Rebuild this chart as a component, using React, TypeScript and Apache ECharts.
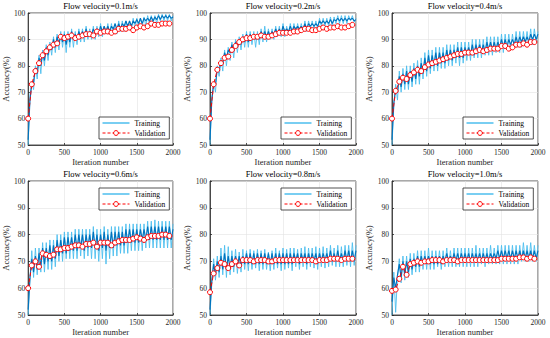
import React, { useEffect, useRef } from "react";
import * as echarts from "echarts";

const FONT = "'Liberation Serif', 'Times New Roman', Times, serif";

const titles = [
  "Flow velocity=0.1m/s",
  "Flow velocity=0.2m/s",
  "Flow velocity=0.4m/s",
  "Flow velocity=0.6m/s",
  "Flow velocity=0.8m/s",
  "Flow velocity=1.0m/s",
];

const xTicks = [0, 500, 1000, 1500, 2000];
const yTicks = [50, 60, 70, 80, 90, 100];
const TRAIN_STEP = 25;
const VAL_STEP = 50;

// ---- 0.1 m/s ----
const p1Light = [
  50, 69, 74, 71, 80, 75, 84, 77,
  86, 80, 88, 82, 89, 84, 91, 85,
  92, 86, 93, 87, 93, 85, 93, 87,
  94, 87, 93, 88, 94, 89, 94, 89,
  95, 90, 94, 90, 95, 90, 95, 91,
  96, 91, 95, 92, 96, 92, 96, 92,
  96, 92, 97, 93, 97, 93, 97, 94,
  97, 94, 98, 94, 98, 95, 98, 95,
  98.5, 95, 99, 96, 99, 96, 99, 96,
  99.5, 97, 99.5, 97, 99.5, 97, 99.5, 97,
  99,
];
const p1Dark = [
  52, 67, 73, 74, 79, 77, 83, 80,
  85, 82, 87, 84, 88, 86, 90, 87,
  91, 88, 92, 89, 92, 88, 92, 89,
  93, 90, 92, 90, 93, 91, 93, 91,
  94, 91, 93, 92, 94, 92, 94, 92,
  95, 93, 95, 93, 95, 93, 95, 94,
  96, 94, 96, 94, 96, 95, 97, 95,
  97, 95, 97, 96, 97.5, 96, 98, 96,
  98, 97, 98, 97, 98.5, 97, 98.5, 97.5,
  99, 97.5, 99, 98, 99, 98, 99, 98,
  98.5,
];
const p1Val = [60, 73, 78, 81, 84, 85.5, 87, 88, 88.5, 91, 90.5, 91, 91.5, 90.5, 91, 91.5, 92, 92, 91.5, 93, 92.5, 93, 93, 92.5, 93, 94, 94, 94, 94.5, 93.5, 94.5, 95, 94.5, 95, 96, 95.5, 95.5, 96, 96, 96];

// ---- 0.2 m/s ----
const p2Light = [
  50, 68, 74, 70, 80, 76, 83, 78,
  86, 80, 87, 82, 89, 83, 90, 85,
  91, 86, 92, 87, 93, 87, 93, 88,
  93, 87, 93, 88, 94, 89, 95, 89,
  94, 90, 94, 90, 95, 91, 95, 91,
  96, 91, 95, 92, 96, 92, 96, 92,
  96, 93, 96, 93, 97, 93, 97, 94,
  97, 94, 97, 94, 98, 95, 98, 95,
  98, 95, 98.5, 95, 98.5, 96, 99, 96,
  99, 96, 99, 96, 99, 97, 99, 96.5,
  98,
];
const p2Dark = [
  52, 67, 73, 73, 79, 78, 82, 81,
  85, 83, 86, 85, 88, 86, 89, 87,
  90, 88, 91, 89, 92, 89, 92, 90,
  92, 90, 92, 90, 93, 91, 93, 91,
  93, 91, 93, 92, 94, 92, 94, 92,
  95, 93, 94, 93, 95, 93, 95, 94,
  95, 94, 95, 94, 96, 94, 96, 95,
  96, 95, 96, 95, 97, 96, 97, 96,
  97, 96, 97.5, 96, 97.5, 97, 98, 97,
  98, 97, 98, 97, 98, 97.5, 98, 97,
  97.5,
];
const p2Val = [60, 73, 78.5, 81, 83, 83.5, 86, 87.5, 89, 90, 90.5, 90.5, 91, 91, 91.5, 91, 91, 91.5, 92, 92.5, 92.5, 92.5, 92.5, 93, 93, 93.5, 94, 94, 93.5, 93.5, 94, 94.5, 94, 94.5, 94.5, 95, 94.5, 94.5, 95, 95.5];

// ---- 0.4 m/s ----
const p3Light = [
  50, 65, 73, 67, 78, 70, 79, 71,
  80, 71, 80, 72, 81, 73, 82, 73,
  83, 75, 85, 76, 86, 77, 86, 78,
  87, 78, 87, 79, 87, 79, 88, 80,
  88, 80, 88, 81, 89, 80, 89, 81,
  89, 82, 89, 82, 90, 83, 90, 83,
  90, 83, 90, 84, 91, 84, 91, 84,
  91, 85, 91, 85, 92, 85, 92, 86,
  92, 86, 92, 87, 93, 87, 93, 87,
  93, 88, 93, 88, 94, 88, 94, 89,
  93,
];
const p3Dark = [
  52, 66, 71, 70, 76, 72, 77, 73,
  78, 73, 78, 74, 79, 75, 80, 76,
  81, 77, 83, 78, 84, 79, 84, 80,
  85, 80, 85, 81, 85, 81, 86, 82,
  86, 82, 86, 83, 87, 83, 87, 83,
  87, 84, 87, 84, 88, 84, 88, 85,
  88, 85, 88, 85, 89, 86, 89, 86,
  89, 86, 89, 87, 90, 87, 90, 87,
  90, 88, 90, 88, 91, 88, 91, 89,
  91, 89, 91, 89, 92, 90, 92, 90,
  92,
];
const p3Val = [60, 70.5, 74, 75.5, 75, 76.5, 77.5, 78.5, 78, 79.5, 80.5, 81, 81.5, 82, 82.5, 83, 83.5, 84, 84.5, 84.5, 85, 85, 85, 85.5, 86, 85.5, 86, 86.5, 86.5, 86.5, 87.5, 87.5, 86.5, 87, 88, 88, 88.5, 88, 89, 89];

// ---- 0.6 m/s ----
const p4Light = [
  50, 63, 74, 64, 75, 65, 75, 66,
  77, 66, 77, 67, 78, 67, 78, 68,
  80, 70, 80, 70, 81, 71, 81, 71,
  81, 71, 82, 71, 82, 72, 82, 71,
  82, 72, 82, 71, 83, 71, 82, 70,
  82, 71, 83, 69, 82, 71, 83, 72,
  83, 72, 83, 73, 83, 73, 84, 73,
  84, 74, 84, 74, 84, 74, 84, 74,
  84, 75, 85, 75, 85, 75, 85.5, 75,
  85, 75, 85, 75, 85, 75, 85, 75,
  84,
];
const p4Dark = [
  52, 64, 71, 66, 72, 67, 73, 68,
  75, 69, 75, 70, 76, 70, 76, 71,
  78, 72, 78, 73, 79, 73, 79, 74,
  79, 74, 80, 74, 80, 75, 80, 74,
  80, 75, 80, 75, 81, 75, 80, 74,
  80, 75, 81, 74, 80, 75, 81, 75,
  81, 76, 81, 76, 81, 76, 82, 77,
  82, 77, 82, 77, 82, 77, 82, 78,
  82, 78, 83, 78, 83, 78, 83, 78,
  83, 78, 83, 78, 83, 78, 83, 78,
  82,
];
const p4Val = [60, 68.5, 70, 68, 73, 72.5, 72, 72.5, 74.5, 74.5, 75, 75, 75.5, 76, 76, 75.5, 76.5, 76.5, 77, 75.5, 77, 77, 77, 76, 77, 77.5, 78, 78, 78, 78.5, 79, 78.5, 78, 79, 79.5, 79.5, 79.5, 80, 80, 79.5];

// ---- 0.8 m/s ----
const p5Light = [
  50, 62, 71, 63, 72, 64, 75, 65,
  76, 64, 75.5, 65, 74, 66, 74.5, 65.5,
  73.5, 66, 74.5, 67, 74, 66.5, 74.5, 67,
  74, 67.5, 74.5, 66.5, 74, 67, 74.5, 67,
  73.5, 66.5, 74, 67, 75, 67.5, 74, 66.5,
  75, 67, 74.5, 67.5, 75, 66.5, 75, 68,
  74.5, 67, 75, 68, 75.5, 67, 75, 68,
  75, 67.5, 75.5, 67, 75, 68, 75.5, 67.5,
  75, 68, 76, 68.5, 75, 68, 76, 68,
  75.5, 68, 76, 68.5, 76, 68, 77, 68.5,
  76,
];
const p5Dark = [
  52, 63, 69, 65, 70, 66, 72, 67,
  73, 67, 72, 67, 72, 68, 72, 68,
  72, 68, 72, 69, 73, 69, 73, 69,
  73, 69, 73, 69, 73, 69, 73, 69,
  73, 69, 73, 69, 73, 69, 73, 69,
  73, 69, 73, 69, 73, 69, 73, 70,
  73, 69, 73, 70, 73, 69, 73, 70,
  73, 70, 73, 69, 73, 70, 73, 70,
  73, 70, 74, 70, 73, 70, 74, 70,
  73, 70, 74, 70, 74, 70, 74, 70,
  74,
];
const p5Val = [58.5, 65.5, 67.5, 69.5, 69, 67.5, 69, 70, 68.5, 70.5, 70.5, 70.5, 70, 70.5, 70.5, 70.5, 70, 70, 70.5, 70.5, 70.5, 70.5, 70.5, 70.5, 70.5, 70.5, 70.5, 70.5, 70.5, 70, 70.5, 70.5, 70.5, 71, 71, 71, 70.5, 71, 71, 71];

// ---- 1.0 m/s ----
const p6Light = [
  50, 66, 51, 64, 71, 62, 72, 63,
  72, 64, 73, 65, 73, 66, 74, 66,
  74, 67, 74, 67, 75, 67, 74, 67,
  74, 68, 74, 67, 74, 68, 75, 68,
  74, 68, 75, 68, 75, 68, 75, 68,
  75, 68, 75, 68, 75, 68, 76, 68,
  75, 69, 75, 68, 75, 69, 76, 69,
  75, 69, 76, 69, 76, 69, 76, 69,
  76, 69, 76, 69, 76, 69, 76, 70,
  77, 70, 76, 70, 77, 70, 76, 70,
  76,
];
const p6Dark = [
  55, 64, 60, 65, 69, 64, 70, 65,
  70, 66, 71, 67, 71, 68, 72, 68,
  72, 69, 72, 69, 72, 69, 72, 69,
  72, 69, 72, 69, 72, 70, 73, 70,
  72, 70, 73, 70, 73, 70, 73, 70,
  73, 70, 73, 70, 73, 70, 73, 70,
  73, 70, 73, 70, 73, 70, 73, 71,
  73, 71, 74, 71, 74, 71, 74, 71,
  74, 71, 74, 71, 74, 71, 74, 71,
  74, 71, 74, 71, 74, 71, 74, 71,
  74,
];
const p6Val = [59, 59.5, 63.5, 68, 65, 69, 69.5, 70, 69.5, 70, 70, 70.5, 70.5, 70.5, 70, 70.5, 70.5, 70.5, 70, 70.5, 70.5, 70.5, 70.5, 70.5, 70.5, 70.5, 70.5, 70.5, 70.5, 70.5, 71, 71, 71, 71, 71, 71.5, 71.5, 71, 71.5, 71];

const lights = [p1Light, p2Light, p3Light, p4Light, p5Light, p6Light];
const darks = [p1Dark, p2Dark, p3Dark, p4Dark, p5Dark, p6Dark];
const vals = [p1Val, p2Val, p3Val, p4Val, p5Val, p6Val];

const layouts = [
  { left: 28, top: 13, width: 145, height: 132, row: 0 },
  { left: 210, top: 13, width: 146, height: 132, row: 0 },
  { left: 392, top: 13, width: 146, height: 132, row: 0 },
  { left: 28, top: 181, width: 145, height: 134, row: 1 },
  { left: 210, top: 181, width: 146, height: 134, row: 1 },
  { left: 392, top: 181, width: 146, height: 134, row: 1 },
];

const AXIS = "#262626";
const LIGHT = "#4DBEEE";
const DARK = "#0072BD";
const RED = "#FF0000";

export default function App() {
  const ref = useRef<HTMLDivElement>(null);
  useEffect(() => {
    if (!ref.current) return;
    const chart = echarts.init(ref.current, undefined, { renderer: "svg" });
    const axisCommon = {
      axisLine: { show: true, lineStyle: { color: AXIS, width: 0.8 } },
      axisTick: { show: true, inside: true, length: 2, lineStyle: { color: AXIS, width: 0.8 } },
      axisLabel: {
        fontFamily: FONT,
        fontSize: 7.5,
        color: AXIS,
        margin: 3,
        formatter: (v: number) => String(v),
      },
      splitLine: { show: true, lineStyle: { color: "#e2e2e2", width: 0.6 } },
      nameLocation: "middle" as const,
      nameTextStyle: { fontFamily: FONT, fontSize: 8.5, color: AXIS },
    };
    const series: any[] = [];
    layouts.forEach((_, i) => {
      series.push({
        type: "line",
        name: "Training",
        xAxisIndex: i,
        yAxisIndex: i,
        symbol: "none",
        showSymbol: false,
        data: lights[i].map((v, j) => [j * TRAIN_STEP, v]),
        lineStyle: { color: LIGHT, width: 0.9 },
        itemStyle: { color: LIGHT },
        z: 2,
      });
      series.push({
        type: "line",
        name: "Training (smoothed)",
        xAxisIndex: i,
        yAxisIndex: i,
        symbol: "none",
        showSymbol: false,
        data: darks[i].map((v, j) => [j * TRAIN_STEP, v]),
        lineStyle: { color: DARK, width: 1.1 },
        itemStyle: { color: DARK },
        z: 3,
      });
      series.push({
        type: "line",
        name: "Validation",
        xAxisIndex: i,
        yAxisIndex: i,
        symbol: "circle",
        symbolSize: 5,
        data: vals[i].map((v, j) => [j * VAL_STEP, v]),
        lineStyle: { color: RED, width: 1, type: [4, 2] },
        itemStyle: { color: "#ffffff", borderColor: RED, borderWidth: 1 },
        z: 4,
      });
    });
    chart.setOption({
      animation: false,
      backgroundColor: "#ffffff",
      title: layouts.map((l, i) => ({
        text: titles[i],
        left: l.left + l.width / 2,
        top: l.row === 0 ? 1 : 169,
        textAlign: "center",
        padding: 0,
        textStyle: { fontFamily: FONT, fontSize: 8.5, fontWeight: "normal", color: "#000" },
      })),
      grid: layouts.map((l) => ({
        left: l.left,
        top: l.top,
        width: l.width,
        height: l.height,
        show: true,
        borderColor: AXIS,
        borderWidth: 0.8,
        backgroundColor: "#fff",
        containLabel: false,
      })),
      legend: layouts.map((l) => ({
        data: [
          { name: "Training", icon: "path://M0,0H54V3H0Z", itemStyle: { color: LIGHT } },
          {
            name: "Validation",
            lineStyle: { color: RED, width: 1, type: [3, 2] },
            itemStyle: { color: "#ffffff", borderColor: RED, borderWidth: 1 },
          },
        ],
        orient: "vertical",
        left: l.left + 71,
        top: l.row === 0 ? l.top + 104 : l.top + 7,
        itemWidth: 27,
        itemHeight: 6,
        itemGap: 2,
        padding: [2, 4, 2, 3],
        backgroundColor: "#fff",
        borderColor: AXIS,
        borderWidth: 0.8,
        borderRadius: 0,
        selectedMode: false,
        lineStyle: { width: 1 },
        itemStyle: { borderWidth: 1 },
        textStyle: { fontFamily: FONT, fontSize: 7.5, color: "#000" },
      })),
      xAxis: layouts.map((_, i) => ({
        ...axisCommon,
        type: "value",
        gridIndex: i,
        min: xTicks[0],
        max: xTicks[xTicks.length - 1],
        interval: xTicks[1] - xTicks[0],
        name: "Iteration number",
        nameGap: 12,
      })),
      yAxis: layouts.map((_, i) => ({
        ...axisCommon,
        type: "value",
        gridIndex: i,
        min: yTicks[0],
        max: yTicks[yTicks.length - 1],
        interval: yTicks[1] - yTicks[0],
        name: "Accuracy(%)",
        nameGap: 14,
      })),
      series,
    });
    return () => chart.dispose();
  }, []);
  return (
    <div
      ref={ref}
      style={{ position: "fixed", left: 0, top: 0, width: 550, height: 338, background: "#fff" }}
    />
  );
}
